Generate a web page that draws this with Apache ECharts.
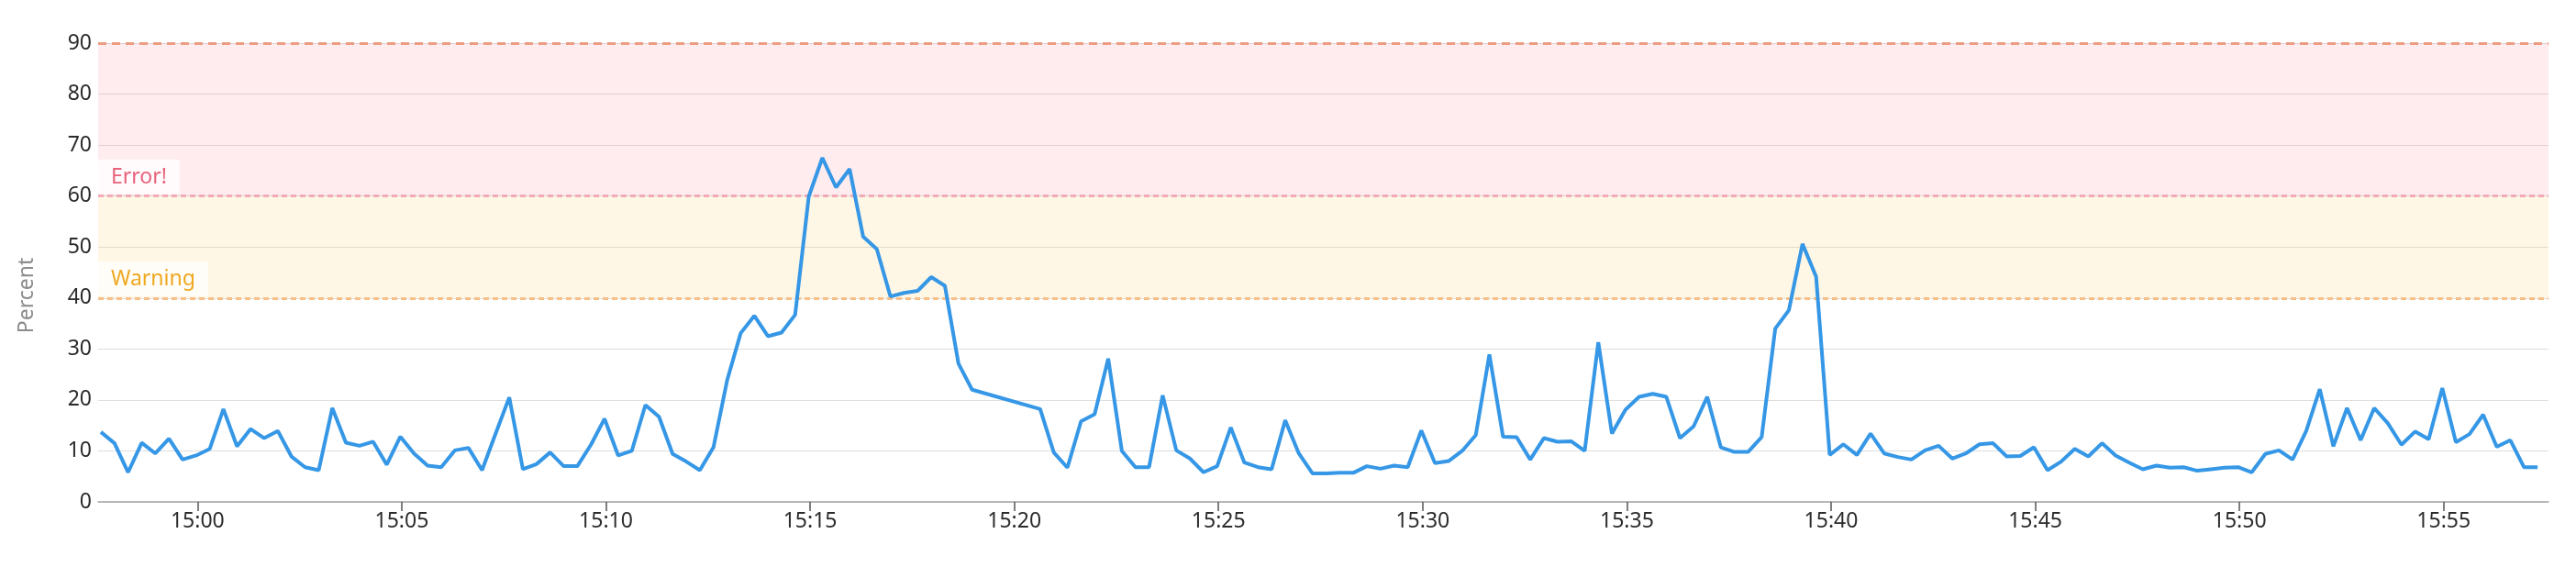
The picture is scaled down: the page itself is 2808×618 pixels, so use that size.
<!DOCTYPE html>
<html><head><meta charset="utf-8">
<script src="https://cdn.jsdelivr.net/npm/echarts@6/dist/echarts.min.js"></script>
<style>html,body{margin:0;padding:0;background:#fff}#c{width:2808px;height:618px}</style>
</head><body><div id="c"></div>
<script>
// Sample times: first sample and step (20 s), axis window of one hour
const day = [2024, 0, 1];
const firstSample = [14, 57, 38];
const stepSeconds = 20;
const axisStart = [14, 57, 34];
const axisEnd = [15, 57, 34];

// x tick labels
const tickLabels = ['15:00', '15:05', '15:10', '15:15', '15:20', '15:25',
                    '15:30', '15:35', '15:40', '15:45', '15:50', '15:55'];

// CPU percent, one value per 20 s sample (null = missing sample)
const values = [
  13.7, 11.5, 5.8, 11.6, 9.5, 12.4, 8.3, 9.1, 10.4, 18.2,
  10.9, 14.3, 12.5, 13.9, 8.9, 6.8, 6.2, 18.4, 11.6, 11.0,
  11.8, 7.3, 12.8, 9.5, 7.1, 6.8, 10.1, 10.6, 6.2, 13.4,
  20.5, 6.4, 7.4, 9.7, 7.0, 7.0, 11.2, 16.3, 9.1, 10.0,
  19.0, 16.7, 9.4, 7.9, 6.2, 10.7, 23.8, 33.1, 36.5, 32.5,
  33.2, 36.7, 59.9, 67.5, 61.7, 65.3, 52.0, 49.6, 40.3, 41.0,
  41.4, 44.1, 42.4, 27.1, 22.0, null, null, null, null, 18.2,
  9.7, 6.7, 15.8, 17.2, 28.1, 10.0, 6.8, 6.8, 20.9, 10.1,
  8.5, 5.8, 7.0, 14.6, 7.7, 6.8, 6.4,
  16.0, 9.5, 5.6, 5.6, 5.7, 5.7, 7.0, 6.5, 7.1, 6.8,
  14.0, 7.6, 8.0, 10.0, 13.1, 28.9, 12.8, 12.7, 8.3, 12.5,
  11.8, 11.9, 10.0, 31.3, 13.4, 18.1, 20.6, 21.2, 20.6, 12.5,
  14.8, 20.6, 10.7, 9.8, 9.8, 12.7, 34.0, 37.6, 50.6, 44.2,
  9.2, 11.3, 9.2, 13.4, 9.5, 8.8, 8.3, 10.1,
  11.0, 8.5, 9.5, 11.3, 11.5, 8.9, 9.0, 10.7, 6.2, 7.9,
  10.4, 8.9, 11.5, 9.1, 7.7, 6.4, 7.1, 6.7, 6.8, 6.1,
  6.4, 6.7, 6.8, 5.8, 9.4, 10.1, 8.3, 13.9, 22.1, 10.9,
  18.4, 12.1, 18.4, 15.4, 11.2, 13.8, 12.3, 22.3, 11.7, 13.3,
  17.1, 10.8, 12.1, 6.8, 6.8
];

// Threshold bands
const bandNames = ['Warning', 'Error!'];
const bandFrom = [40, 60];
const bandTo = [60, 90];
const thresholdLines = [40, 60, 90];

const yMin = 0, yMax = 90, yStep = 10;
const yName = 'Percent';

function toMs(h, m, s) { return new Date(day[0], day[1], day[2], h, m, s || 0).getTime(); }
const t0 = toMs(firstSample[0], firstSample[1], firstSample[2]);
const seriesData = values.map((v, i) => [t0 + i * stepSeconds * 1000, v]);
const tickValues = tickLabels.map(s => { const p = s.split(':'); return toMs(+p[0], +p[1], 0); });
const labelOf = v => { const i = tickValues.indexOf(v); return i >= 0 ? tickLabels[i] : ''; };

const bandFill = ['rgba(255,190,40,0.12)', 'rgba(250,80,110,0.11)'];
const bandText = ['#efa81f', '#e8627b'];
const lineColors = ['#f7c089', '#f3aab4', '#ec9d82'];
const FONT = 'Noto Sans';
const FS = 23;

const chart = echarts.init(document.getElementById('c'), null, { renderer: 'canvas' });
chart.setOption({
  animation: false,
  backgroundColor: '#fff',
  grid: { left: 107, right: 30, top: 47, bottom: 71, containLabel: false },
  xAxis: {
    type: 'value',
    min: toMs(axisStart[0], axisStart[1], axisStart[2]),
    max: toMs(axisEnd[0], axisEnd[1], axisEnd[2]),
    splitLine: { show: false },
    axisLine: { lineStyle: { color: '#a3a3a3', width: 1.5 } },
    axisTick: { show: true, length: 10, customValues: tickValues, lineStyle: { color: '#555', width: 1.5 } },
    axisLabel: {
      customValues: tickValues,
      formatter: labelOf,
      fontSize: FS, fontFamily: FONT, color: '#2b2b2b', margin: 10
    }
  },
  yAxis: {
    type: 'value', min: yMin, max: yMax, interval: yStep,
    name: yName, nameLocation: 'middle', nameGap: 66,
    nameTextStyle: { fontSize: FS, fontFamily: FONT, color: '#8c8c8c', padding: [0, 50, 0, 0] },
    axisLine: { show: false }, axisTick: { show: false },
    axisLabel: { fontSize: FS, fontFamily: FONT, color: '#2b2b2b', margin: 7 },
    splitLine: { lineStyle: { color: '#dedede', width: 1.2 } }
  },
  series: [{
    type: 'line',
    data: seriesData,
    showSymbol: false,
    symbol: 'none',
    connectNulls: true,
    z: 3,
    lineStyle: { color: '#3597e6', width: 4 },
    itemStyle: { color: '#3597e6' },
    markArea: {
      silent: true,
      data: bandNames.map((n, i) => [
        {
          yAxis: bandFrom[i], name: n,
          itemStyle: { color: bandFill[i] },
          label: {
            show: true, position: 'insideBottomLeft', distance: 0, offset: [0, -2],
            formatter: n, color: bandText[i], fontSize: FS, fontFamily: FONT,
            backgroundColor: 'rgba(255,255,255,0.72)', borderRadius: 3,
            padding: [8, 14, 7, 14]
          }
        },
        { yAxis: bandTo[i] }
      ])
    },
    markLine: {
      silent: true, symbol: 'none', z: 2,
      label: { show: false },
      data: thresholdLines.map((y, i) => ({
        yAxis: y,
        lineStyle: { color: lineColors[i], type: i === 2 ? [9, 6] : [6, 4], width: 2.8 }
      }))
    }
  }]
});
</script></body></html>
